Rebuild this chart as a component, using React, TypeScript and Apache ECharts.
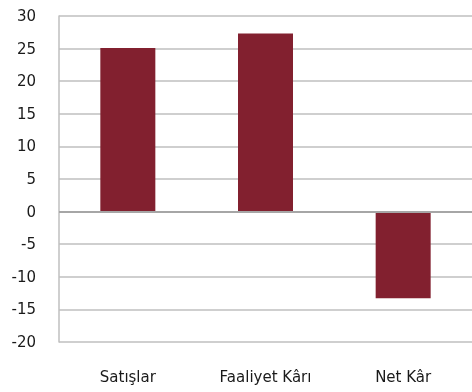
import React, { useEffect, useRef } from "react";
import * as echarts from "echarts";

const categories = ["Satışlar", "Faaliyet Kârı", "Net Kâr"];
const values = [25.1, 27.3, -13.3];
const yTicks = { min: -20, max: 30, interval: 5 };

export default function App() {
  const ref = useRef<HTMLDivElement>(null);
  useEffect(() => {
    const chart = echarts.init(ref.current!, null, { renderer: "svg" });
    chart.setOption({
      animation: false,
      grid: { left: 59, top: 16, right: 0, bottom: 50 },
      xAxis: {
        type: "category",
        data: categories,
        axisLine: { show: false, onZero: false },
        axisTick: { show: false },
        axisLabel: {
          margin: 27,
          color: "#1a1a1a",
          fontFamily: "DejaVu Sans",
          fontSize: 15,
        },
      },
      yAxis: {
        type: "value",
        min: yTicks.min,
        max: yTicks.max,
        interval: yTicks.interval,
        axisLine: { show: true, lineStyle: { color: "#BFBFBF", width: 1.5 } },
        axisTick: { show: false },
        splitLine: { show: true, lineStyle: { color: "#BFBFBF", width: 1.5 } },
        axisLabel: {
          margin: 23,
          color: "#1a1a1a",
          fontFamily: "DejaVu Sans",
          fontSize: 15,
        },
      },
      series: [
        {
          type: "bar",
          data: values,
          barWidth: 55,
          itemStyle: { color: "#82202F" },
          markLine: {
            silent: true,
            symbol: "none",
            label: { show: false },
            lineStyle: { color: "#A6A6A6", width: 2, type: "solid" },
            data: [{ yAxis: 0 }],
          },
        },
      ],
    });
    return () => chart.dispose();
  }, []);
  return (
    <div
      ref={ref}
      style={{ position: "fixed", left: 0, top: 0, width: 472, height: 392 }}
    />
  );
}
